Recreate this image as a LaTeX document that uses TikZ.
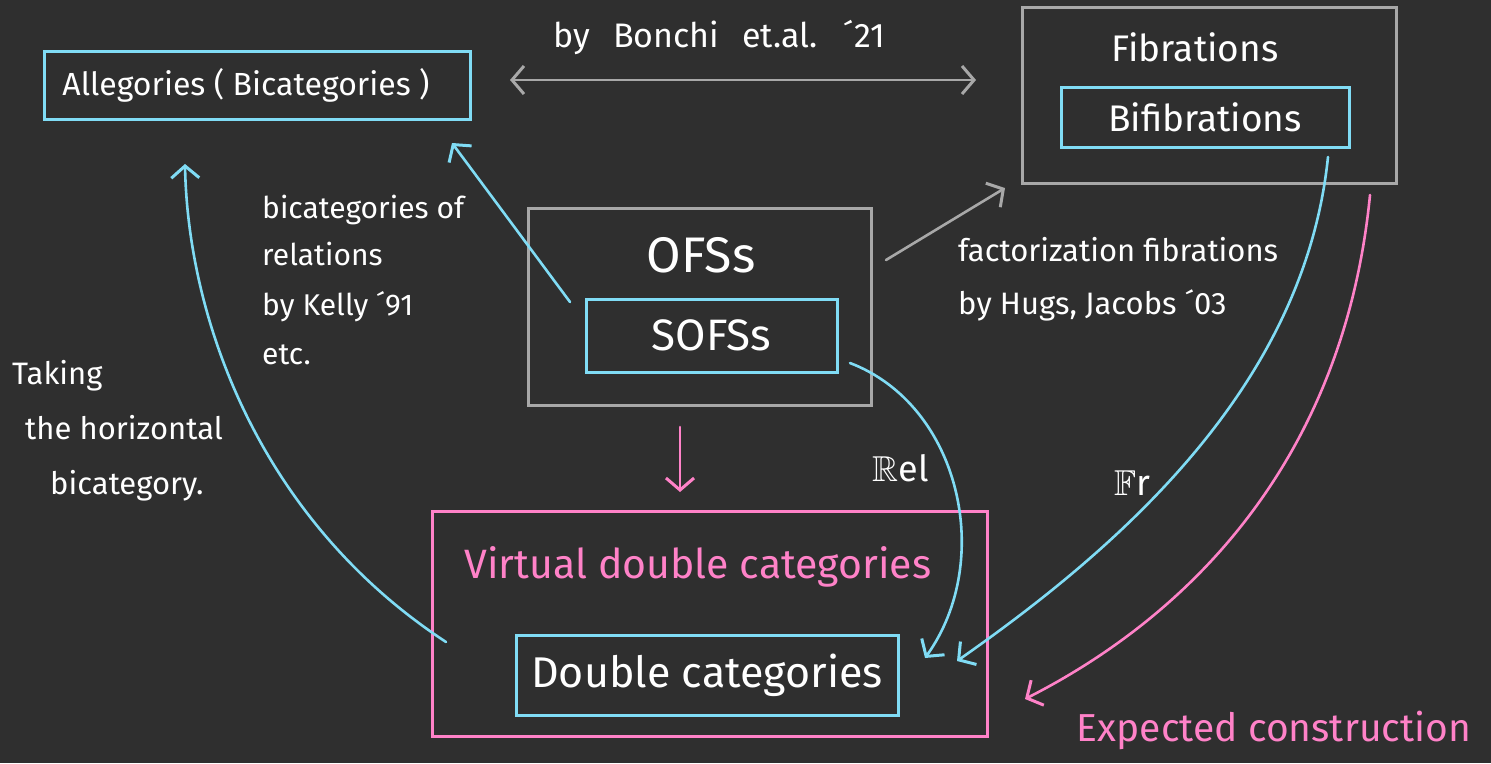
\documentclass[tikz,border=0pt]{standalone}
\usepackage{fontspec}
\usepackage{amssymb}
\setmainfont{Fira Sans}
\usetikzlibrary{arrows.meta}
\definecolor{bg}{HTML}{2F2F2F}
\definecolor{cy}{HTML}{80DCF5}
\definecolor{pk}{HTML}{FF82C8}
\definecolor{gr}{HTML}{A8A8A8}
\begin{document}
\begin{tikzpicture}[x=1pt,y=-1pt,
  box/.style={draw=#1,line width=3pt,inner sep=0pt,minimum width=0pt},
  tip/.style={-{Straight Barb[length=12pt,width=28pt,line width=3pt]}},
  lbl/.style={text=white,inner sep=0pt,anchor=mid west},
  conn/.style={line width=2.6pt,line cap=round}]
\fill[bg] (0,0) rectangle (1491,763);
\useasboundingbox (0,0) rectangle (1491,763);
% boxes
\node[box=cy,minimum width=426pt,minimum height=68pt] (alleg) at (257,85) {};
\node[text=white,font=\fontsize{32}{36}\selectfont] (allegt) at (246,85) {Allegories ( Bicategories )};
\node[box=gr,minimum width=374pt,minimum height=176pt] (fib) at (1209,95) {};
\node[text=white,font=\fontsize{37}{42}\selectfont] (fibt) at (1195,47) {Fibrations};
\node[box=cy,minimum width=288pt,minimum height=60pt] (bifib) at (1205,117) {};
\node[text=white,font=\fontsize{37}{42}\selectfont] (bifibt) at (bifib.center) {Bifibrations};
\node[box=gr,minimum width=343pt,minimum height=197pt] (ofs) at (699.5,306.5) {};
\node[text=white,font=\fontsize{50}{56}\selectfont] (ofst) at (701,255) {OFSs};
\node[box=cy,minimum width=251pt,minimum height=73pt] (sofs) at (711.5,335.5) {};
\node[text=white,font=\fontsize{44}{50}\selectfont] (sofst) at (sofs.center) {SOFSs};
\node[box=pk,minimum width=555pt,minimum height=225pt] (vdc) at (709.5,623.5) {};
\node[text=pk,font=\fontsize{41}{46}\selectfont] (vdct) at (698,567) {Virtual double categories};
\node[box=cy,minimum width=382pt,minimum height=80pt] (dc) at (707,675) {};
\node[text=white,font=\fontsize{43}{48}\selectfont] (dct) at (dc.center) {Double categories};
% labels
\node[text=white,font=\fontsize{34}{38}\selectfont] (bonchi) at (719,38) {by\hspace{14pt} Bonchi\hspace{14pt} et.al.\hspace{14pt} ´21};
\begin{scope}[every node/.style={lbl,font=\fontsize{30}{34}\selectfont}]
\node (k1) at (262,216) {bicategories of};
\node (k2) at (262,263) {relations};
\node (k3) at (262,313) {by Kelly ´91};
\node (k4) at (262,362) {etc.};
\end{scope}
\begin{scope}[every node/.style={lbl,font=\fontsize{31}{34}\selectfont}]
\node (h1) at (958,259) {factorization fibrations};
\node (h2) at (958,312) {by Hugs, Jacobs ´03};
\end{scope}
\begin{scope}[every node/.style={lbl,font=\fontsize{31}{34}\selectfont}]
\node (t1) at (12,382) {Taking};
\node (t2) at (25,437) {the horizontal};
\node (t3) at (50,492) {bicategory.};
\end{scope}
\node[text=white,font=\fontsize{36}{40}\selectfont] (rel) at (901,468) {$\mathbb{R}$el};
\node[text=white,font=\fontsize{36}{40}\selectfont] (fr) at (1132,483) {$\mathbb{F}$r};
\node[text=pk,font=\fontsize{39}{44}\selectfont] (exp) at (1274,730) {Expected construction};
% connector ends
\coordinate (a1) at (510,80); \coordinate (a2) at (976,80);
\coordinate (b1) at (886,260); \coordinate (b2) at (1005,188);
\coordinate (c1) at (570,302); \coordinate (c2) at (452,143);
\coordinate (d1) at (680,427); \coordinate (d2) at (680,492);
\coordinate (e1) at (850,363); \coordinate (e2) at (925,658);
\coordinate (f1) at (1328,157); \coordinate (f2) at (957,661);
\coordinate (g1) at (1370,195); \coordinate (g2) at (1025,699);
\coordinate (l1) at (446,642); \coordinate (l2) at (185,164);
% connectors
\draw[conn,gr,{Straight Barb[length=12pt,width=28pt,line width=3pt]}-{Straight Barb[length=12pt,width=28pt,line width=3pt]}] (a1) -- (a2);
\draw[conn,gr,tip] (b1) -- (b2);
\draw[conn,cy,tip] (c1) -- (c2);
\draw[conn,pk,tip] (d1) -- (d2);
\draw[conn,cy,tip] (e1) .. controls (960,405) and (995,560) .. (e2);
\draw[conn,cy,tip] (f1) .. controls (1305,380) and (1130,540) .. (f2);
\draw[conn,pk,tip] (g1) .. controls (1345,450) and (1200,610) .. (g2);
\draw[conn,cy,tip] (l1) .. controls (260,520) and (188,320) .. (l2);
\end{tikzpicture}
\end{document}
